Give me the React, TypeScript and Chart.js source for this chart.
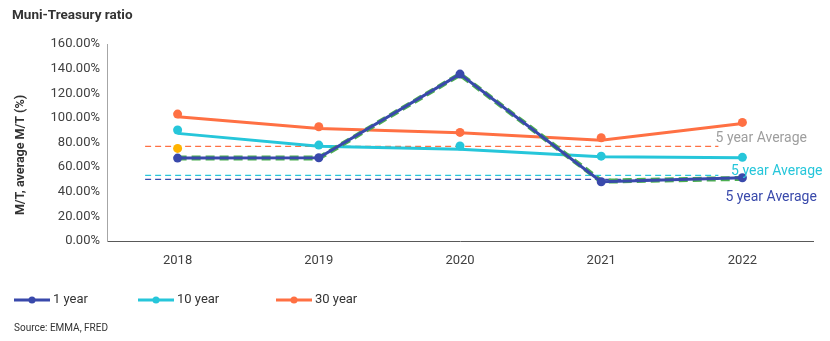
import React, { useEffect, useRef } from "react";
import { Chart, registerables } from "chart.js";

Chart.register(...registerables);

// ---- data ----
const categories = ["2018", "2019", "2020", "2021", "2022"];
const oneYear = [67.4, 67.7, 135.7, 48.2, 51.4];
const oneYearDashed = [67.4, 67.4, 135.5, 48.6, 50.9];
const tenYearPoints = [90.2, 78.0, 77.2, 69.0, 68.0];
const tenYearLine = [87.5, 77.0, 74.5, 68.5, 67.7];
const thirtyYearPoints = [103.2, 92.9, 88.3, 83.9, 96.4];
const thirtyYearLine = [101.0, 91.5, 88.0, 82.0, 95.6];
const extraPoint = [75.3, null, null, null, null];
const averageValues = [76.9, 53.4, 50.1];
const averageLabels = ["5 year Average", "5 year Average", "5 year Average"];
const yTicks = [0, 20, 40, 60, 80, 100, 120, 140, 160];
const legendLabels = ["1 year", "10 year", "30 year"];
const sourceText = "Source: EMMA, FRED";
const titleText = "Muni-Treasury ratio";
const yTitle = "M/T, average M/T (%)";

// ---- styles / layout ----
const BLUE = "#3949AB";
const GREEN = "#4CAF50";
const CYAN = "#26C6DA";
const ORANGE = "#FF7043";
const YELLOW = "#FFB300";
const FONT = "Roboto";
const avgColors = [ORANGE, CYAN, BLUE];
const avgLabelColors = ["#9e9e9e", CYAN, BLUE];
const avgSpan = [-0.23, 3.83];
const avgLabelX = [3.81, 3.92, 3.88];
const avgLabelY = [83.0, 56.3, 35.5];
const legendColors = [BLUE, CYAN, ORANGE];
const legendX = [14, 138, 276];

const overlayPlugin = {
  id: "overlay",
  afterDraw(chart: any) {
    const ctx = chart.ctx as CanvasRenderingContext2D;
    const xs = chart.scales.xl;
    const ys = chart.scales.y;
    ctx.save();
    // average labels
    ctx.font = `14px ${FONT}`;
    ctx.textAlign = "left";
    ctx.textBaseline = "middle";
    averageLabels.forEach((t, i) => {
      ctx.fillStyle = avgLabelColors[i];
      ctx.fillText(t, xs.getPixelForValue(avgLabelX[i]), ys.getPixelForValue(avgLabelY[i]));
    });
    // legend
    const ly = 300;
    ctx.font = `13px ${FONT}`;
    legendLabels.forEach((t, i) => {
      const x0 = legendX[i];
      ctx.strokeStyle = legendColors[i];
      ctx.lineWidth = 3;
      ctx.beginPath();
      ctx.moveTo(x0, ly);
      ctx.lineTo(x0 + 36, ly);
      ctx.stroke();
      ctx.fillStyle = legendColors[i];
      ctx.beginPath();
      ctx.arc(x0 + 18, ly, 3.5, 0, Math.PI * 2);
      ctx.fill();
      ctx.fillStyle = "#333";
      ctx.fillText(t, x0 + 39, ly);
    });
    // source
    ctx.font = `10px ${FONT}`;
    ctx.fillStyle = "#333";
    ctx.fillText(sourceText, 14, 328);
    ctx.restore();
  },
};

export default function App() {
  const ref = useRef<HTMLCanvasElement | null>(null);
  useEffect(() => {
    document.body.style.margin = "0";
    const canvas = ref.current!;
    const avgDatasets = averageValues.map((v, i) => ({
      type: "line" as const,
      label: "avg" + i,
      data: [
        { x: avgSpan[0], y: v },
        { x: avgSpan[1], y: v },
      ],
      xAxisID: "xl",
      borderColor: avgColors[i],
      borderWidth: 1.3,
      borderDash: [6, 4],
      pointRadius: 0,
      order: 20,
    }));
    const chart = new Chart(canvas, {
      type: "line",
      data: {
        labels: categories,
        datasets: [
          {
            label: legendLabels[0],
            data: oneYear,
            borderColor: BLUE,
            backgroundColor: BLUE,
            borderWidth: 3,
            pointRadius: 4.5,
            pointBackgroundColor: BLUE,
            pointBorderWidth: 0,
            order: 0,
          },
          {
            label: "1y dashed",
            data: oneYearDashed,
            borderColor: GREEN,
            borderWidth: 5,
            borderDash: [9, 5],
            pointRadius: 0,
            order: 1,
          },
          {
            label: legendLabels[1] + " pts",
            data: tenYearPoints,
            showLine: false,
            pointRadius: 4.5,
            pointBackgroundColor: CYAN,
            pointBorderWidth: 0,
            borderColor: CYAN,
            order: 2,
          },
          {
            label: legendLabels[1],
            data: tenYearLine,
            borderColor: CYAN,
            borderWidth: 3,
            pointRadius: 0,
            order: 3,
          },
          {
            label: legendLabels[2] + " pts",
            data: thirtyYearPoints,
            showLine: false,
            pointRadius: 4.5,
            pointBackgroundColor: ORANGE,
            pointBorderWidth: 0,
            borderColor: ORANGE,
            order: 4,
          },
          {
            label: legendLabels[2],
            data: thirtyYearLine,
            borderColor: ORANGE,
            borderWidth: 3,
            pointRadius: 0,
            order: 5,
          },
          {
            label: "extra",
            data: extraPoint,
            showLine: false,
            pointRadius: 4.5,
            pointBackgroundColor: YELLOW,
            pointBorderWidth: 0,
            borderColor: YELLOW,
            order: 6,
          },
          ...(avgDatasets as any[]),
        ],
      },
      options: {
        responsive: false,
        animation: false,
        layout: { padding: { left: 12, right: 17, top: 0, bottom: 0 } },
        plugins: {
          legend: { display: false },
          tooltip: { enabled: false },
          title: {
            display: true,
            text: titleText,
            align: "start",
            color: "#333",
            font: { family: FONT, size: 13.5, weight: "bold" },
            padding: { top: 8, bottom: 20 },
          },
        },
        scales: {
          x: {
            type: "category",
            offset: true,
            grid: { display: false, drawTicks: false },
            border: { display: true, color: "#595959", width: 1 },
            ticks: { color: "#404040", font: { family: FONT, size: 13 }, padding: 12 },
            afterFit: (s: any) => {
              s.height = 100;
            },
          },
          xl: {
            type: "linear",
            display: false,
            min: -0.5,
            max: 4.5,
          },
          y: {
            type: "linear",
            min: yTicks[0],
            max: yTicks[yTicks.length - 1],
            grid: { display: false, drawTicks: false },
            border: { display: true, color: "#a6a6a6", width: 1 },
            afterBuildTicks: (s: any) => {
              s.ticks = yTicks.map((v) => ({ value: v }));
            },
            ticks: {
              color: "#404040",
              font: { family: FONT, size: 13 },
              padding: 7,
              callback: (v: any) => Number(v).toFixed(2) + "%",
            },
            title: {
              display: true,
              text: yTitle + "        ",
              color: "#333",
              font: { family: FONT, size: 12.5, weight: "bold" },
              padding: { top: 1, bottom: 0 },
            },
            afterFit: (s: any) => {
              s.width = 95;
            },
          },
        },
      } as any,
      plugins: [overlayPlugin],
    });
    return () => chart.destroy();
  }, []);
  return (
    <div style={{ width: 830, height: 341 }}>
      <canvas ref={ref} width={830} height={341} style={{ width: 830, height: 341, display: "block" }} />
    </div>
  );
}
